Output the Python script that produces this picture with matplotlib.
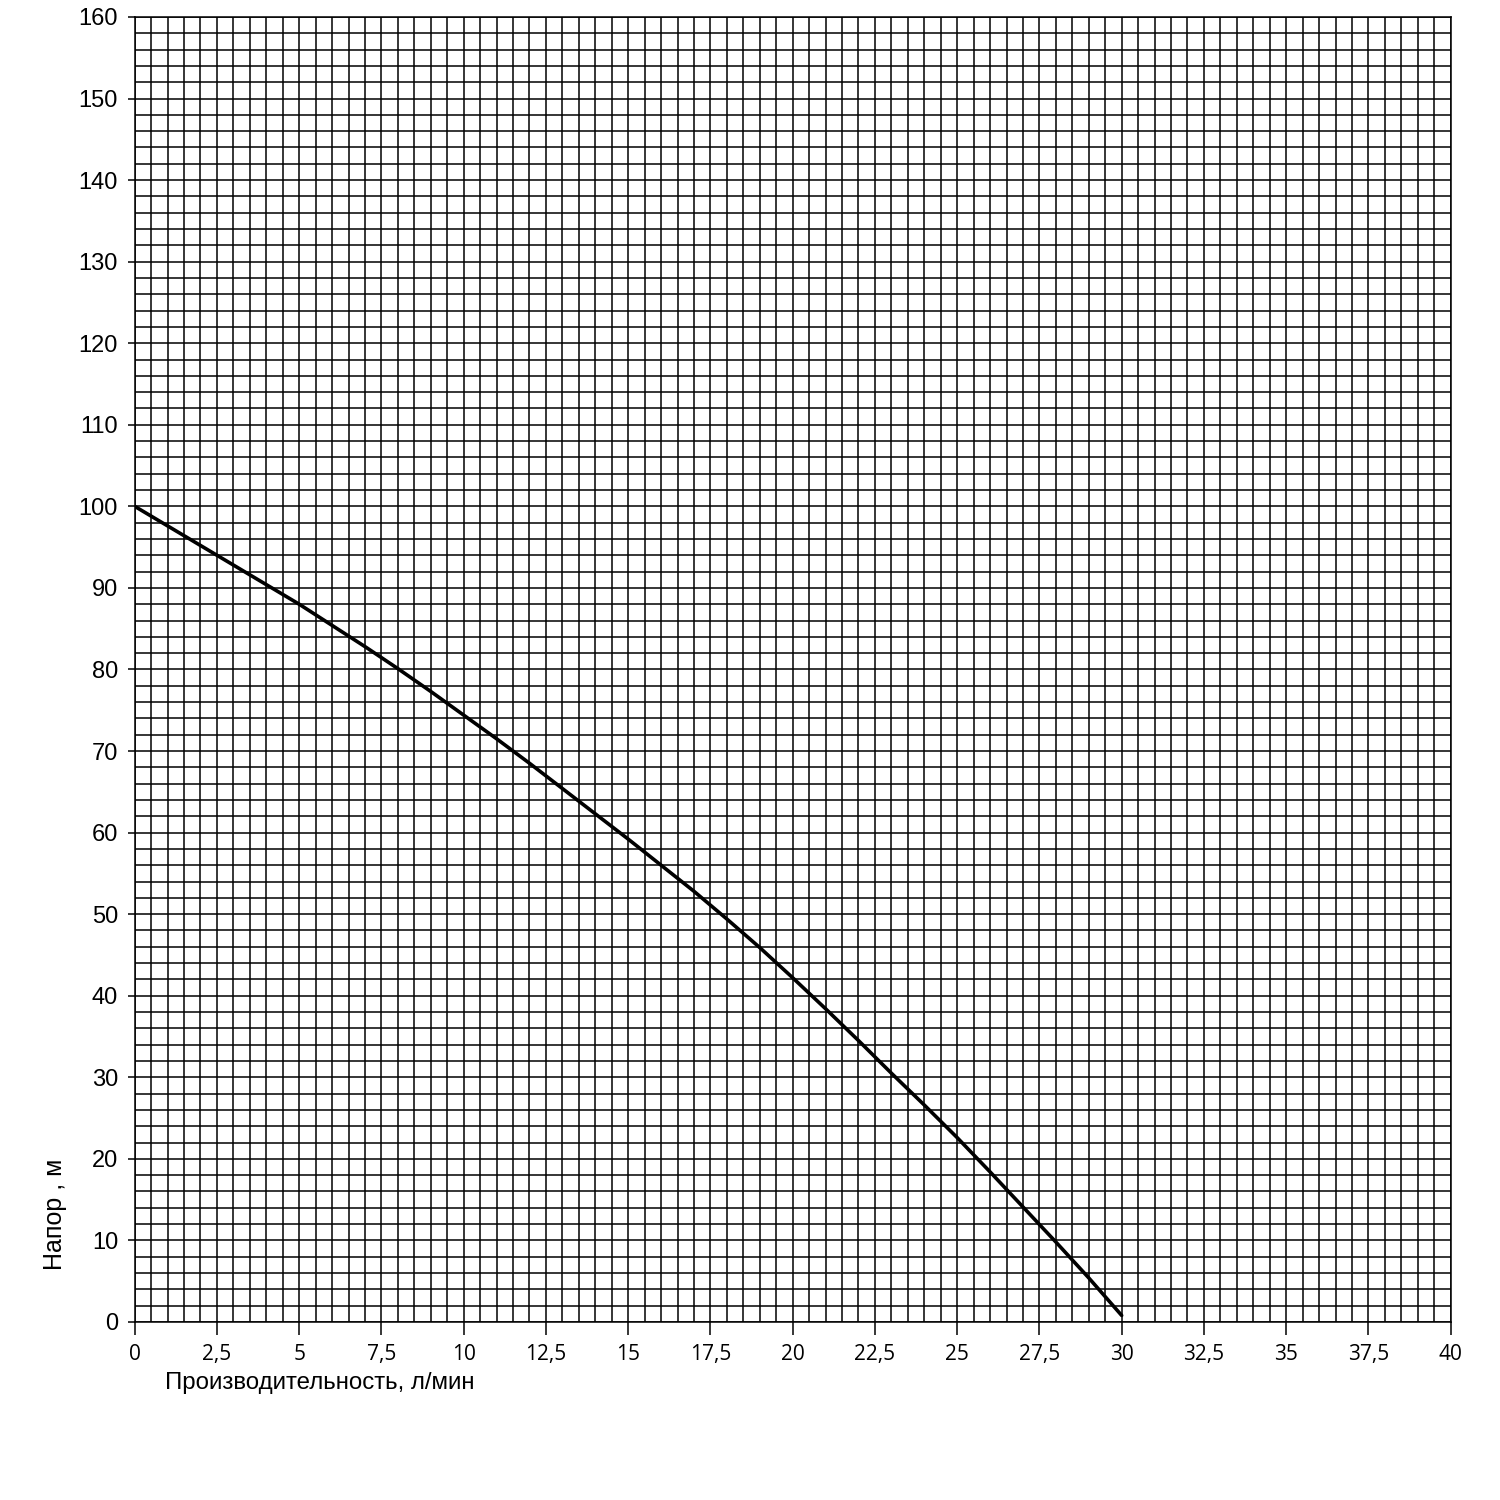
import matplotlib
matplotlib.use('Agg')
from matplotlib import pyplot as plt
from matplotlib.ticker import MultipleLocator, FixedLocator

# flow, l/min -> head, m
flow = [0, 1, 2, 3, 4, 5, 6, 7, 8, 9, 10, 11, 12, 13, 14, 15,
        16, 17, 18, 19, 20, 21, 22, 23, 24, 25, 26, 27, 28, 29, 30]
head = [100, 97.6, 95.2, 92.8, 90.4, 88.0, 85.4, 82.8, 80.1, 77.3, 74.4,
        71.5, 68.5, 65.4, 62.3, 59.2, 56.0, 52.8, 49.4, 45.9, 42.2, 38.4,
        34.5, 30.5, 26.6, 22.6, 18.4, 14.1, 9.8, 5.4, 0.8]

x_ticks = [0, 2.5, 5, 7.5, 10, 12.5, 15, 17.5, 20, 22.5, 25, 27.5, 30,
           32.5, 35, 37.5, 40]
x_labels = ['0', '2,5', '5', '7,5', '10', '12,5', '15', '17,5', '20',
            '22,5', '25', '27,5', '30', '32,5', '35', '37,5', '40']
y_ticks = list(range(0, 161, 10))

fig = plt.figure(figsize=(15, 15), dpi=100)
ax = fig.add_axes([0.0898, 0.1187, 0.8773, 0.87])

ax.set_xlim(0, 40)
ax.set_ylim(0, 160)

ax.xaxis.set_major_locator(FixedLocator(x_ticks))
ax.yaxis.set_major_locator(FixedLocator(y_ticks))
ax.xaxis.set_minor_locator(MultipleLocator(0.5))
ax.yaxis.set_minor_locator(MultipleLocator(2))
ax.grid(True, which='both', color='black', linewidth=1.1)
ax.set_axisbelow(True)

ax.set_xticklabels(x_labels, family='Open Sans', fontsize=15)
ax.set_yticklabels([str(v) for v in y_ticks], family='Liberation Sans', fontsize=17)
ax.tick_params(axis='x', which='major', direction='out', length=9, width=1.1,
               pad=7, colors='black')
ax.tick_params(axis='y', which='major', direction='out', length=5, width=1.1,
               pad=7, colors='black')
ax.tick_params(which='minor', length=0)

for s in ax.spines.values():
    s.set_color('black')
    s.set_linewidth(1.1)

ax.plot(flow, head, color='black', linewidth=2.6, solid_capstyle='round',
        solid_joinstyle='round')

fig.text(165 / 1500, 1 - 1383 / 1500, 'Производительность, л/мин',
         family='Liberation Sans', fontsize=17.3, ha='left', va='center')
fig.text(55 / 1500, 1 - 1214 / 1500, 'Напор , м', family='Liberation Sans',
         fontsize=18, rotation=90, ha='center', va='center')

fig.savefig('out.png', dpi=100)
